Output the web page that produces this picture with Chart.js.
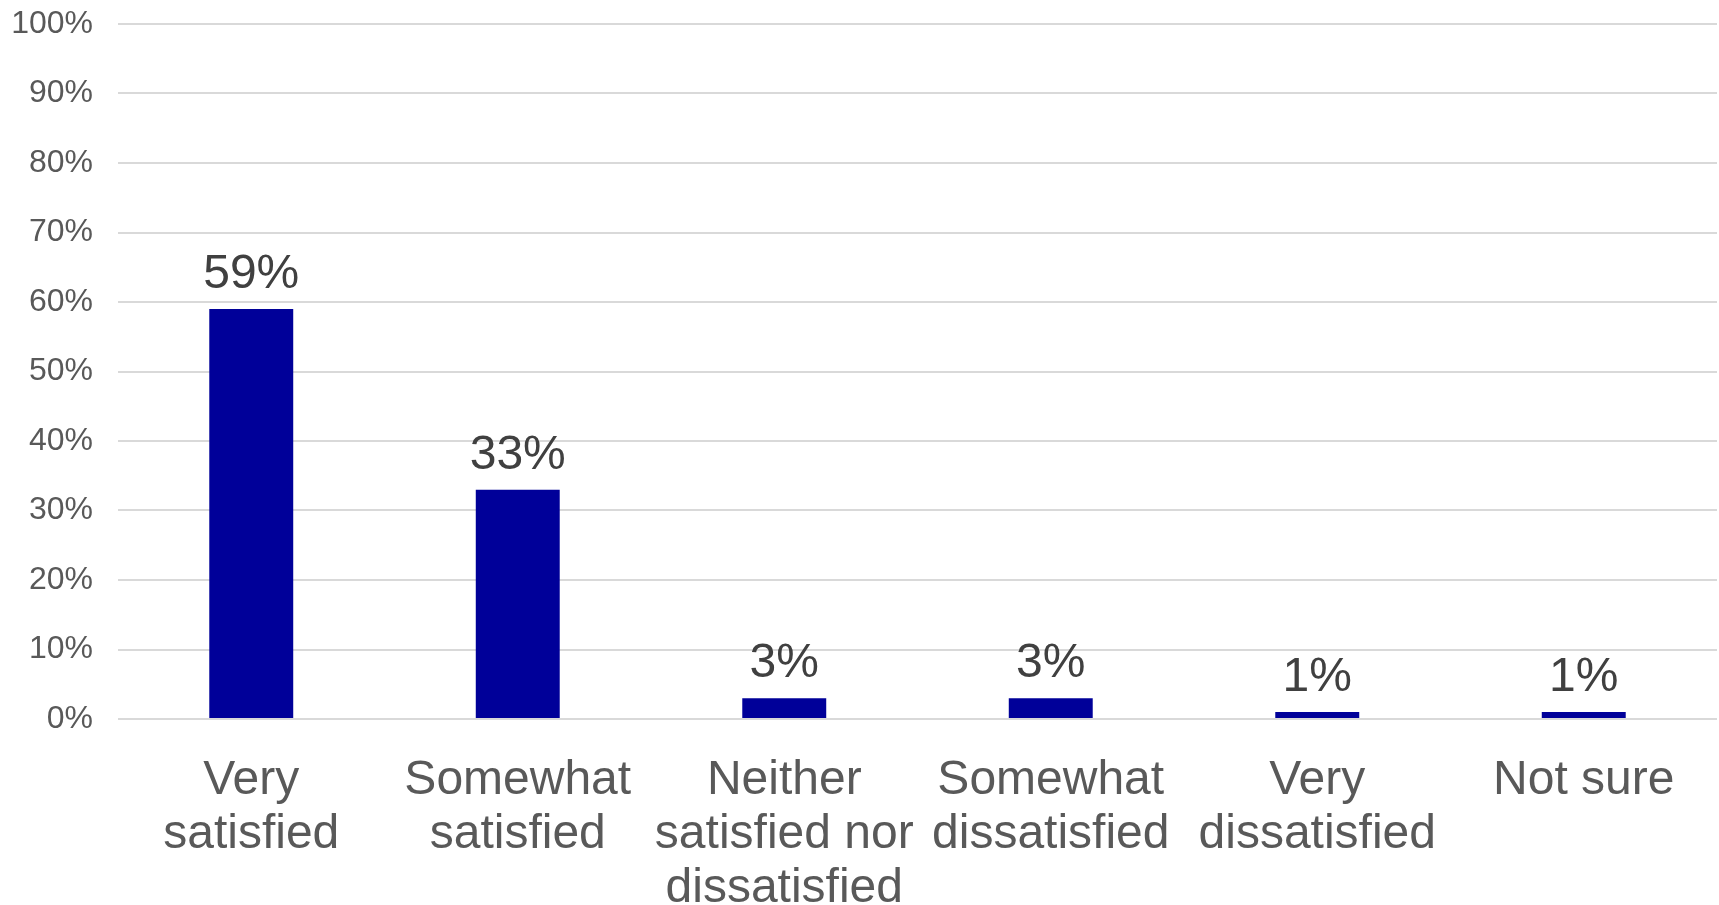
<!DOCTYPE html>
<html lang="en">
<head>
  <meta charset="UTF-8">
  <title>Satisfaction</title>
  <script src="https://cdn.jsdelivr.net/npm/chart.js"></script>
  <style>
    body { margin: 0; padding: 0; background: #fff; }
    .wrap { width: 1719px; height: 905px; position: relative; }
  </style>
</head>
<body>
  <div class="wrap">
    <canvas id="chart"></canvas>
  </div>
  <script>
    const categories = [
      ["Very", "satisfied"],
      ["Somewhat", "satisfied"],
      ["Neither", "satisfied nor", "dissatisfied"],
      ["Somewhat", "dissatisfied"],
      ["Very", "dissatisfied"],
      ["Not sure"]
    ];
    const values = [59, 33, 3, 3, 1, 1];
    const yTicks = [0, 10, 20, 30, 40, 50, 60, 70, 80, 90, 100];

    const font = "'Liberation Sans', Arial, sans-serif";

    // value labels above each bar
    const barLabels = {
      id: "barLabels",
      afterDatasetsDraw(chart) {
        const ctx = chart.ctx;
        const meta = chart.getDatasetMeta(0);
        ctx.save();
        ctx.font = "48px " + font;
        ctx.fillStyle = "#404040";
        ctx.textAlign = "center";
        ctx.textBaseline = "alphabetic";
        meta.data.forEach((bar, i) => {
          ctx.fillText(values[i] + "%", bar.x, bar.y - 21);
        });
        ctx.restore();
      }
    };

    new Chart(document.getElementById("chart"), {
      type: "bar",
      data: {
        labels: categories,
        datasets: [{
          data: values,
          backgroundColor: "#000099",
          barPercentage: 0.63,
          categoryPercentage: 0.5
        }]
      },
      options: {
        responsive: true,
        maintainAspectRatio: false,
        animation: false,
        layout: { padding: { top: 24, right: 2, left: 0, bottom: 0 } },
        plugins: { legend: { display: false }, tooltip: { enabled: false } },
        scales: {
          x: {
            grid: { display: false, drawTicks: false },
            border: { display: false },
            ticks: {
              color: "#595959",
              font: { family: font, size: 48, lineHeight: 1.125 },
              maxRotation: 0,
              autoSkip: false,
              padding: 35
            },
            afterFit(scale) {
              scale.height = 186;
              scale.paddingLeft = 0;
              scale.paddingRight = 0;
            }
          },
          y: {
            min: 0,
            max: 100,
            afterBuildTicks(axis) {
              axis.ticks = yTicks.map(v => ({ value: v }));
            },
            grid: { color: "#d9d9d9", lineWidth: 2, drawTicks: false },
            border: { display: false },
            ticks: {
              color: "#595959",
              font: { family: font, size: 32 },
              padding: 25,
              callback: v => v + "%"
            },
            afterFit(scale) {
              scale.width = 118;
              scale.paddingTop = 0;
              scale.paddingBottom = 0;
            }
          }
        }
      },
      plugins: [barLabels]
    });
  </script>
</body>
</html>
